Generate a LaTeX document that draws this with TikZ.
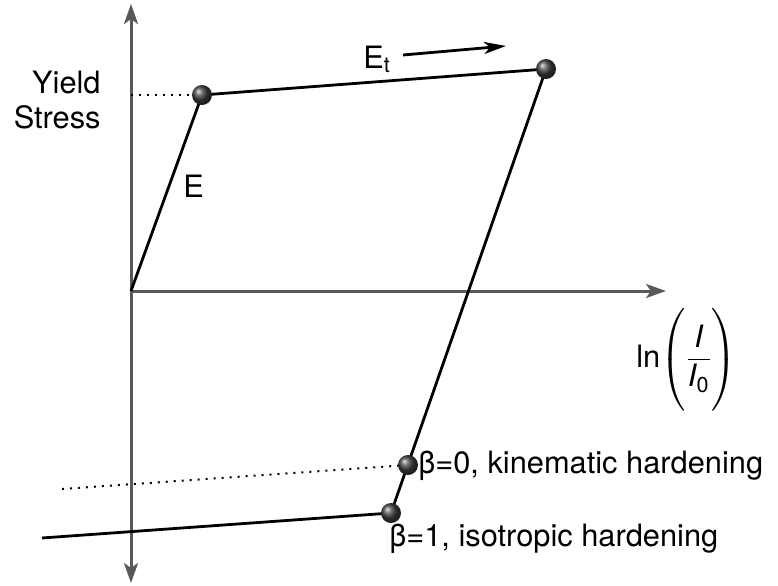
\documentclass[tikz,border=0pt]{standalone}
\usepackage{amsmath}
\usepackage{fontspec}
\setmainfont{TeX Gyre Heros}
\usetikzlibrary{arrows.meta}

\tikzset{
  axis/.style={draw=black!65,line width=1.5pt,-{Stealth[length=10pt,width=7pt,inset=2.5pt]}},
  curve/.style={line width=1.4pt},
  guide/.style={line width=1pt,dash pattern=on 1pt off 3pt},
  ball/.style={circle,inner sep=0pt,minimum size=10pt,shading=ball,ball color=black!75},
  lbl/.style={inner sep=0pt}
}

\begin{document}
\begin{tikzpicture}[x=0.5pt,y=-0.5pt,font=\fontsize{15.4}{17.5}\selectfont]
\useasboundingbox (0,0) rectangle (778,585);
% points of the loop
\coordinate (O) at (131,291);
\coordinate (ytop) at (131,4);
\coordinate (ybot) at (131,583);
\coordinate (xend) at (666,291);
\coordinate (yield) at (202,95);
\coordinate (load) at (546,69);
\coordinate (kin) at (408,465);
\coordinate (iso) at (391,513);
\coordinate (isoleft) at (42,538);
\coordinate (kinleft) at (62,489);
\coordinate (yieldaxis) at (131,95);
\coordinate (Etstart) at (403,55);
\coordinate (Etend) at (506,46);
% axes
\draw[axis] (O) -- (xend);
\draw[axis] (O) -- (ytop);
\draw[axis] (O) -- (ybot);
% loop
\draw[guide] (yieldaxis) -- (yield);
\draw[guide] (kinleft) -- (kin);
\draw[curve] (O) -- (yield) -- (load) -- (iso) -- (isoleft);
\draw[curve,-{Stealth[length=11pt,width=6pt,inset=3pt]}] (Etstart) -- (Etend);
\node[ball] (Byield) at (yield) {};
\node[ball] (Bload) at (load) {};
\node[ball] (Bkin) at (kin) {};
\node[ball] (Biso) at (iso) {};
% labels
\node[lbl,anchor=east,align=right] (ylabel) at (101,100) {Yield\\Stress};
\node[lbl,anchor=base west] (Elabel) at (183,197) {E};
\node[lbl,anchor=base west] (Etlabel) at (363,68) {E\textsubscript{t}};
\node[lbl,anchor=base west] (kinlabel) at (418,473) {β=0, kinematic hardening};
\node[lbl,anchor=base west] (isolabel) at (389,546) {β=1, isotropic hardening};
\node[lbl,anchor=west] (xlabel) at (636,359) {ln$\left(\rule[-23pt]{0pt}{54pt}\dfrac{\textit{I}}{\textit{I}_{\text{0}}}\right)$};
\end{tikzpicture}
\end{document}
